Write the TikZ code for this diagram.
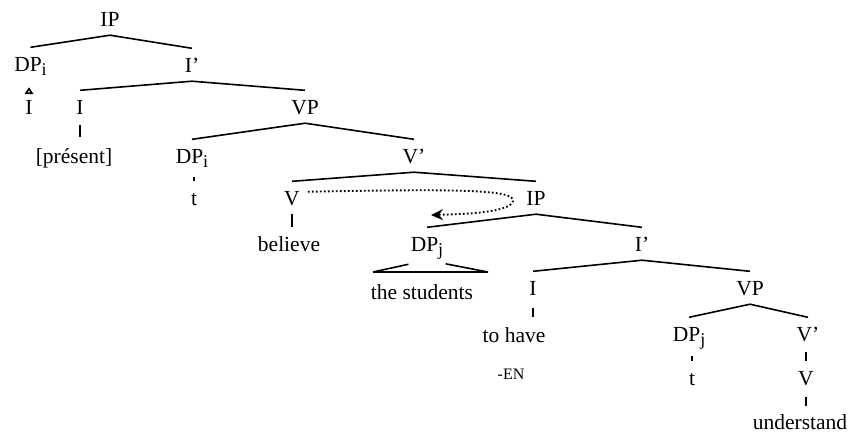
\documentclass[tikz,border=0pt]{standalone}
\usepackage{fontspec}
\setmainfont{Liberation Serif}
\usetikzlibrary{arrows.meta}
\newcommand{\mysub}[1]{\raisebox{-4.5pt}{\fontsize{18}{18}\selectfont #1}}
\begin{document}
\begin{tikzpicture}[x=1pt,y=-1pt,
  lab/.style={anchor=base,font=\fontsize{21.5}{25}\selectfont,text height=18.5pt,text depth=4pt,inner xsep=2pt,inner ysep=5pt},
  small/.style={anchor=base,font=\fontsize{16}{18}\selectfont,inner sep=2pt},
  br/.style={line width=1.6pt},
  mov/.style={line width=1.9pt,dash pattern=on 1.7pt off 2.3pt,-{Stealth[length=12pt,width=11pt,inset=4pt]}}]
\useasboundingbox (0,0) rectangle (848,432);
% nodes
\node[lab] (IP0) at (110,26) {IP};
\node[lab] (DPi0) at (30.5,71) {DP\mysub{i}};
\node[lab] (Ib0) at (192,72) {I’};
\node[lab] (Ia) at (29,114) {I};
\node[lab] (Ib) at (80,114) {I};
\node[lab] (VP0) at (305,114) {VP};
\node[lab] (pres) at (74,163) {[présent]};
\node[lab] (DPi1) at (192,163) {DP\mysub{i}};
\node[lab] (Vb0) at (414,163) {V’};
\node[lab] (t1) at (194,205) {t};
\node[lab] (V1) at (292,205) {V};
\node[lab] (IP1) at (536,205) {IP};
\node[lab] (bel) at (289,251) {believe};
\node[lab] (DPj1) at (427,251) {DP\mysub{j}};
\node[lab] (Ib1) at (642,251) {I’};
\node[lab] (stud) at (422,299) {the students};
\node[lab] (I1) at (533,295) {I};
\node[lab] (VP1) at (750,295) {VP};
\node[lab] (toh) at (514,342) {to have};
\node[lab] (DPj2) at (689,341) {DP\mysub{j}};
\node[lab] (Vb2) at (808,341) {V’};
\node[small] (EN) at (511,379) {-EN};
\node[lab] (t2) at (692,385) {t};
\node[lab] (V2) at (806,385) {V};
\node[lab] (und) at (800,429) {understand};
% branches
\draw[br] (DPi0.north) -- (IP0.south) -- (Ib0.north);
\draw[br] (Ib.north) -- (Ib0.south) -- (VP0.north);
\draw[br] (DPi1.north) -- (VP0.south) -- (Vb0.north);
\draw[br] (V1.north) -- (Vb0.south) -- (IP1.north);
\draw[br] (DPj1.north) -- (IP1.south) -- (Ib1.north);
\draw[br] (I1.north) -- (Ib1.south) -- (VP1.north);
\draw[br] (DPj2.north) -- (VP1.south) -- (Vb2.north);
% unary lines
\draw[br,shorten <=2pt,shorten >=2pt] (Ib.south) -- (Ib.south |- pres.north);
\draw[br] (V1.south) -- (V1.south |- bel.north);
\draw[br,shorten <=4pt,shorten >=1pt] (I1.south) -- (I1.south |- toh.north);
\draw[br,shorten <=2pt] (V2.north |- Vb2.south) -- (V2.north);
\draw[br,shorten <=3pt,shorten >=-1pt] (V2.south) -- (V2.south |- und.north);
\draw[br,shorten <=5pt] (t1.north |- DPi1.south) -- (t1.north);
\draw[br,shorten <=6pt] (t2.north |- DPj2.south) -- (t2.north);
% tiny triangle
\draw[line width=1.6pt] ([xshift=-1.5pt,yshift=-8.5pt]DPi0.south) -- ++(-3,4.5) -- ++(6,0) -- cycle;
% triangle over the students
\coordinate (triL) at (373,272);
\coordinate (triR) at (488,272);
\draw[br] (triL) -- (triR);
\draw[br,shorten >=19pt] (triL) -- (DPj1.south);
\draw[br,shorten >=19pt] (triR) -- (DPj1.south);
% movement arrow
\coordinate (arrS) at ([xshift=6pt,yshift=6pt]V1.east);
\coordinate (arrE) at (431,215);
\draw[mov] (arrS) .. controls (450,189) and (516,189) .. (513,201)
  .. controls (510,212) and (470,214) .. (arrE);
\end{tikzpicture}
\end{document}
